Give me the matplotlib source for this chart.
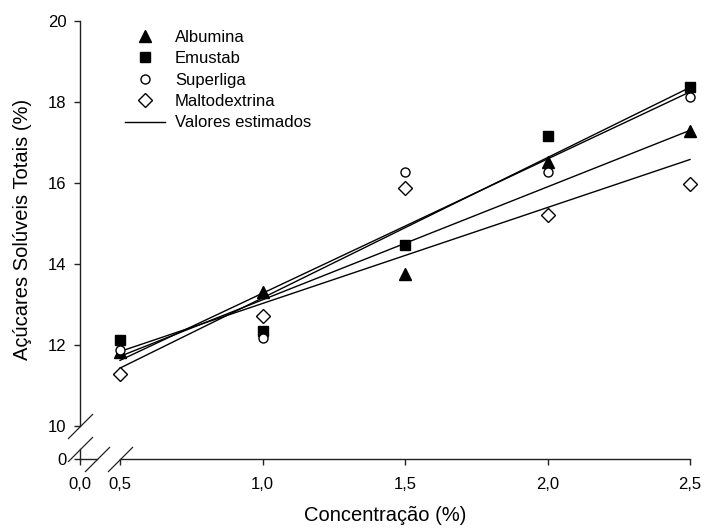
import numpy as np
import matplotlib
matplotlib.use("Agg")
import matplotlib.pyplot as plt
from matplotlib.path import Path

plt.rcParams['font.family'] = ['Liberation Sans', 'DejaVu Sans']

# dados
conc = [0.5, 1.0, 1.5, 2.0, 2.5]
albumina = [11.82, 13.31, 13.75, 16.53, 17.28]
emustab = [12.12, 12.35, 14.47, 17.16, 18.38]
superliga = [11.87, 12.18, 16.26, 16.26, 18.12]
maltodextrina = [11.29, 12.72, 15.87, 15.21, 15.97]

# valores estimados (retas) em 0,5 e 2,5
est_x = [0.5, 2.5]
est_albumina = [11.72, 17.30]
est_emustab = [11.43, 18.36]
est_superliga = [11.62, 18.25]
est_maltodextrina = [11.84, 16.58]

xticks = [0.0, 0.5, 1.0, 1.5, 2.0, 2.5]
xticklabels = ['0,0', '0,5', '1,0', '1,5', '2,0', '2,5']
yticks = [0, 10, 12, 14, 16, 18, 20]
yticklabels = ['0', '10', '12', '14', '16', '18', '20']

# escalas com quebra
XA = 40 / 285
YB = 33 / 40.5

def xfwd(x):
    x = np.asarray(x, dtype=float)
    return np.where(x < 0.5, x * XA / 0.5, XA + (x - 0.5))

def xinv(u):
    u = np.asarray(u, dtype=float)
    return np.where(u < XA, u * 0.5 / XA, u - XA + 0.5)

def yfwd(y):
    y = np.asarray(y, dtype=float)
    return np.where(y < 10, y * YB / 10, YB + (y - 10))

def yinv(u):
    u = np.asarray(u, dtype=float)
    return np.where(u < YB, u * 10 / YB, u - YB + 10)

fig = plt.figure(figsize=(7.05, 5.3), dpi=100)
ax = fig.add_axes([80 / 705, 71 / 530, 610 / 705, 438 / 530])
ax.set_xscale('function', functions=(xfwd, xinv))
ax.set_yscale('function', functions=(yfwd, yinv))
ax.set_xlim(0, 2.5)
ax.set_ylim(0, 20)

for s in ['top', 'right']:
    ax.spines[s].set_visible(False)
ax.spines['left'].set_bounds(10, 20)
ax.spines['bottom'].set_bounds(0.5, 2.5)
for s in ['left', 'bottom']:
    ax.spines[s].set_linewidth(1.0)
    ax.spines[s].set_color('#222222')

# pedacos do eixo perto da origem
ax.plot([0, 0], [0, 3.0], color='#222222', lw=1.0, clip_on=False)
ax.plot([0, 0.21], [0, 0], color='#222222', lw=1.0, clip_on=False)

slash = Path([(-1, -1), (1, 1)], [Path.MOVETO, Path.LINETO])
ax.plot([0, 0], [10, 3.0], ls='none', marker=slash, ms=18, mec='#222222', mew=0.9, clip_on=False)
ax.plot([0.21, 0.5], [0, 0], ls='none', marker=slash, ms=18, mec='#222222', mew=0.9, clip_on=False)

ax.set_xticks(xticks, labels=xticklabels)
ax.set_yticks(yticks, labels=yticklabels)
ax.minorticks_off()
ax.tick_params(direction='out', length=4.3, width=1.0, color='#222222', labelsize=12)
ax.tick_params(axis='x', pad=9)
ax.tick_params(axis='y', pad=5.5)

ax.plot(conc, albumina, ls='none', marker='^', ms=8, color='black', label='Albumina', zorder=3, clip_on=False)
ax.plot(conc, emustab, ls='none', marker='s', ms=7.5, color='black', label='Emustab', zorder=3, clip_on=False)
ax.plot(conc, superliga, ls='none', marker='o', ms=6.5, mfc='white', mec='black', mew=1.0,
        label='Superliga', zorder=3, clip_on=False)
ax.plot(conc, maltodextrina, ls='none', marker='D', ms=7, mfc='white', mec='black', mew=1.0,
        label='Maltodextrina', zorder=3, clip_on=False)

ax.plot(est_x, est_albumina, color='black', lw=1.0, label='Valores estimados', clip_on=False)
ax.plot(est_x, est_emustab, color='black', lw=1.0, clip_on=False)
ax.plot(est_x, est_superliga, color='black', lw=1.0, clip_on=False)
ax.plot(est_x, est_maltodextrina, color='black', lw=1.0, clip_on=False)

ax.legend(loc='upper left', bbox_to_anchor=(125 / 705, 1 - 30 / 530), bbox_transform=fig.transFigure,
          frameon=False, fontsize=12, borderpad=0, borderaxespad=0, handlelength=2.4,
          handletextpad=0.6, labelspacing=0.38)

ax.set_xlabel('Concentração (%)', fontsize=14.5)
ax.xaxis.set_label_coords(0.5, -0.107)
ax.set_ylabel('Açúcares Solúveis Totais (%)', fontsize=14.5)
ax.yaxis.set_label_coords(-0.079, 0.523)

fig.savefig('out.png', dpi=100)
